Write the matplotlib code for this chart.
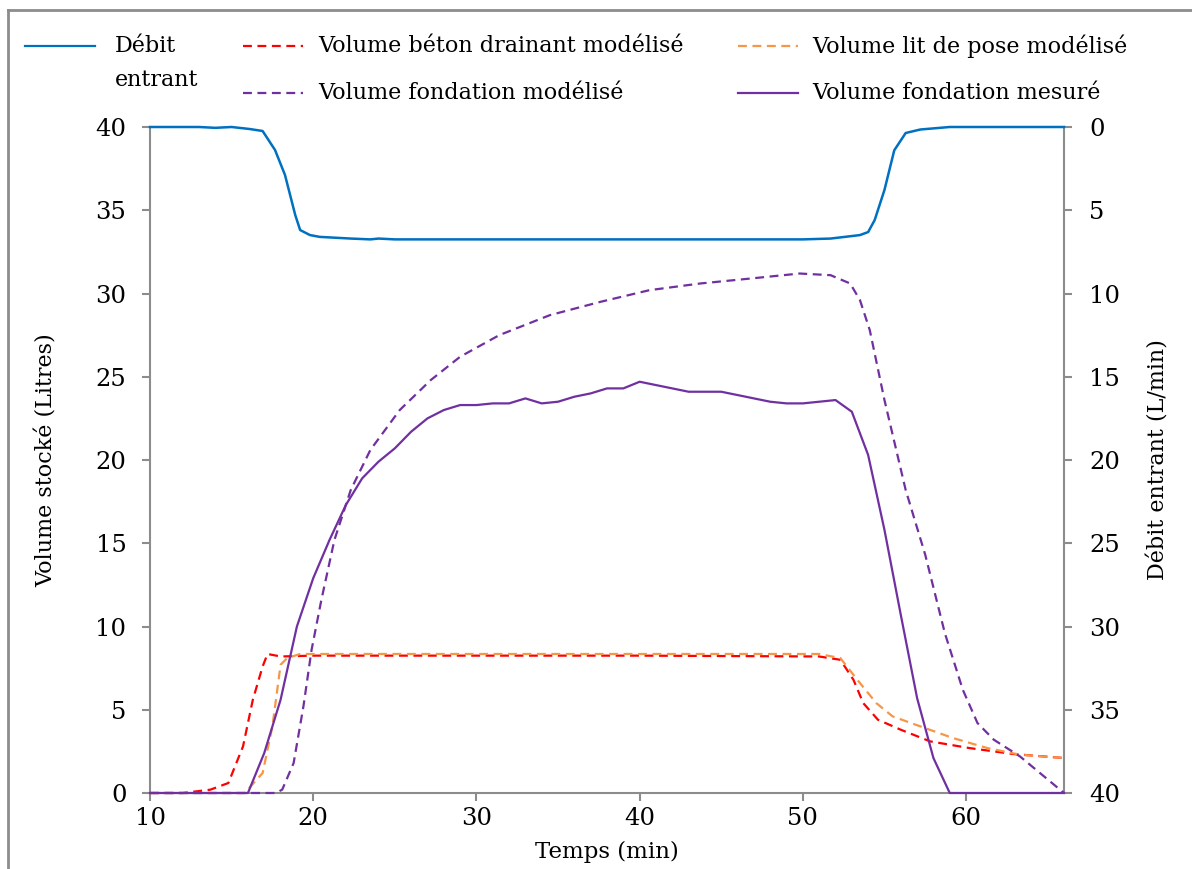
import matplotlib
matplotlib.use("Agg")
import matplotlib.pyplot as plt
from matplotlib.lines import Line2D

plt.rcParams['font.family'] = ['DejaVu Serif']

# Débit entrant (L/min), right axis (inverted)
t_debit = [10, 13, 14, 15, 16.1, 16.9, 17.66, 18.27, 18.9, 19.2, 19.8, 20.4, 22.3, 23.5, 24, 25, 30, 40, 50, 51.7, 53.0, 53.5, 54.0, 54.4, 55.0, 55.6, 56.3, 57.2, 59.0, 66]
q_debit = [0, 0, 0.05, 0.0, 0.12, 0.24, 1.38, 2.88, 5.29, 6.19, 6.49, 6.6, 6.7, 6.75, 6.7, 6.75, 6.75, 6.75, 6.75, 6.7, 6.55, 6.49, 6.31, 5.59, 3.78, 1.4, 0.36, 0.15, 0.0, 0.0]

# Volume béton drainant modélisé (L)
t_beton = [10, 12, 13.7, 14.8, 15.7, 16.3, 16.9, 17.2, 18.0, 20, 30, 40, 51.0, 52.3, 53.1, 53.7, 54.6, 56.0, 57.8, 60.2, 62.9, 66]
v_beton = [0, 0, 0.2, 0.6, 2.8, 5.6, 7.6, 8.35, 8.2, 8.25, 8.25, 8.25, 8.2, 8.0, 6.8, 5.4, 4.4, 3.8, 3.1, 2.7, 2.34, 2.1]

# Volume lit de pose modélisé (L)
t_lit = [10, 15.8, 16.9, 17.5, 18.0, 18.4, 19.2, 30, 40, 51.0, 52.3, 53.5, 54.5, 55.5, 57.2, 59.2, 61.3, 63.3, 66]
v_lit = [0, 0, 1.2, 4.0, 7.7, 8.1, 8.35, 8.35, 8.35, 8.35, 8.1, 6.6, 5.4, 4.6, 4.0, 3.3, 2.7, 2.3, 2.1]

# Volume fondation modélisé (L)
t_fond_mod = [10, 17.7, 18.1, 18.8, 19.4, 19.9, 20.5, 21.3, 22.3, 23.5, 25.3, 27.2, 29, 31.4, 34.5, 37.6, 40.6, 43.7, 46.8, 49.8, 51.7, 52.9, 53.5, 54.1, 55.0, 56.3, 57.5, 58.7, 59.8, 60.7, 61.7, 63.3, 66]
v_fond_mod = [0, 0, 0.2, 1.8, 5.2, 8.6, 11.6, 15.2, 18.2, 20.6, 23.0, 24.8, 26.2, 27.5, 28.7, 29.5, 30.2, 30.6, 30.9, 31.2, 31.1, 30.6, 29.6, 27.8, 23.6, 18.2, 14.3, 9.6, 6.2, 4.2, 3.2, 2.2, 0]

# Volume fondation mesuré (L)
t_fond_mes = [10, 16, 17, 18, 19, 20, 21, 22, 23, 24, 25, 26, 27, 28, 29, 30, 31, 32, 33, 34, 35, 36, 37, 38, 39, 40, 41, 42, 43, 44, 45, 46, 47, 48, 49, 50, 51, 52, 53, 54, 55, 56, 57, 58, 59, 66]
v_fond_mes = [0, 0, 2.4, 5.6, 10.0, 12.9, 15.2, 17.3, 18.9, 19.9, 20.7, 21.7, 22.5, 23.0, 23.3, 23.3, 23.4, 23.4, 23.7, 23.4, 23.5, 23.8, 24.0, 24.3, 24.3, 24.7, 24.5, 24.3, 24.1, 24.1, 24.1, 23.9, 23.7, 23.5, 23.4, 23.4, 23.5, 23.6, 22.9, 20.3, 15.8, 10.7, 5.7, 2.1, 0, 0]

x_ticks = [10, 20, 30, 40, 50, 60]
y_ticks = [0, 5, 10, 15, 20, 25, 30, 35, 40]

C_BLUE = '#0070C0'
C_RED = '#FF0000'
C_ORANGE = '#F79646'
C_PURPLE = '#7030A0'
C_GREY = '#8C8C8C'
DASH = (0, (4, 2.5))

fig = plt.figure(figsize=(11.92, 8.69), dpi=100)

def fx(px):
    return px / 1192
def fy(py):
    return 1 - py / 869

# outer frame (only left and top edges visible)
fig.add_artist(Line2D([fx(8), fx(8)], [fy(10), -0.1], color=C_GREY, lw=2.0, transform=fig.transFigure))
fig.add_artist(Line2D([fx(8), 1.1], [fy(10), fy(10)], color=C_GREY, lw=2.0, transform=fig.transFigure))

ax = fig.add_axes([150/1192, 1 - 793/869, (1064 - 150)/1192, (793 - 127)/869])
ax2 = ax.twinx()

for a in (ax, ax2):
    for s in a.spines.values():
        s.set_color(C_GREY)
        s.set_linewidth(1.5)
        s.set_zorder(1)
    a.spines['top'].set_visible(False)
    a.tick_params(colors=C_GREY, labelcolor='black', labelsize=17.5, width=1.5, length=6, direction='out')
ax2.spines['left'].set_visible(False)
ax2.spines['bottom'].set_visible(False)
ax.spines['right'].set_visible(False)
ax.patch.set_visible(False)

ax2.plot(t_beton, v_beton, color=C_RED, lw=1.6, ls=DASH, clip_on=False, zorder=3, transform=ax.transData)
ax2.plot(t_lit, v_lit, color=C_ORANGE, lw=1.6, ls=DASH, clip_on=False, zorder=3, transform=ax.transData)
ax2.plot(t_fond_mod, v_fond_mod, color=C_PURPLE, lw=1.6, ls=DASH, clip_on=False, zorder=3, transform=ax.transData)
ax2.plot(t_fond_mes, v_fond_mes, color=C_PURPLE, lw=1.6, clip_on=False, zorder=3, transform=ax.transData)
ax2.plot(t_debit, q_debit, color=C_BLUE, lw=1.8, clip_on=False, zorder=3)

ax.set_xlim(10, 66)
ax.set_ylim(0, 40)
ax2.set_ylim(40, 0)
ax.set_xticks(x_ticks)
ax.set_yticks(y_ticks)
ax2.set_yticks(y_ticks)

ax.tick_params(axis='x', pad=4)
ax.tick_params(axis='y', pad=11)
ax2.tick_params(axis='y', pad=12)

ax.set_xlabel('Temps (min)', fontsize=16.5, labelpad=8)
ax.set_ylabel('Volume stocké (Litres)', fontsize=16, labelpad=27)
ax2.set_ylabel('Débit entrant (L/min)', fontsize=16, labelpad=20)

entries = [
    ((25, 95), 46, C_BLUE, '-', (115, 46), 'Débit'),
    ((243, 303), 46, C_RED, '--', (318, 46), 'Volume béton drainant modélisé'),
    ((738, 798), 46, C_ORANGE, '--', (812, 46), 'Volume lit de pose modélisé'),
    ((243, 303), 93, C_PURPLE, '--', (318, 93), 'Volume fondation modélisé'),
    ((738, 798), 93, C_PURPLE, '-', (812, 93), 'Volume fondation mesuré'),
]
for (x0, x1), yy, col, ls, (tx, ty), label in entries:
    style = DASH if ls == '--' else '-'
    fig.add_artist(Line2D([fx(x0), fx(x1)], [fy(yy), fy(yy)], color=col, lw=1.6, ls=style,
                          transform=fig.transFigure))
    fig.text(fx(tx), fy(ty), label, fontsize=16, va='center', ha='left')
fig.text(fx(115), fy(80), 'entrant', fontsize=16, va='center', ha='left')

fig.savefig('out.png', dpi=100)
